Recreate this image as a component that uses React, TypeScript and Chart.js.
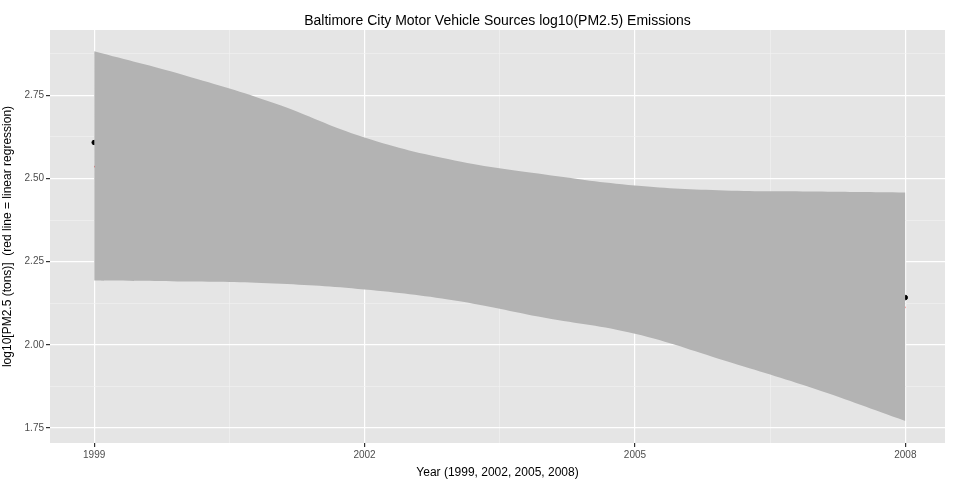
import React, { useEffect, useRef } from 'react'
import { Chart, registerables } from 'chart.js'

Chart.register(...registerables)

const years = [1999, 2002, 2005, 2008]
const emissions = [2.608, 2.283, 2.271, 2.142]
const regression = [2.536, 2.112]
const bandYears = [1999, 2000, 2001, 2002, 2003, 2004, 2005, 2006, 2007, 2008]
const bandUpper = [2.882, 2.81, 2.726, 2.623, 2.554, 2.512, 2.479, 2.464, 2.461, 2.458]
const bandLower = [2.193, 2.19, 2.184, 2.166, 2.133, 2.081, 2.033, 1.952, 1.867, 1.771]
const xTicks = [1999, 2000.5, 2002, 2003.5, 2005, 2006.5, 2008]
const yTicks = [1.75, 1.875, 2.0, 2.125, 2.25, 2.375, 2.5, 2.625, 2.75, 2.875]

const panelBg = {
  id: 'panelBg',
  beforeDraw(chart: Chart) {
    const { ctx, chartArea: a } = chart
    ctx.save()
    ctx.fillStyle = '#E5E5E5'
    ctx.fillRect(a.left, a.top, a.right - a.left, a.bottom - a.top)
    ctx.fillStyle = '#000'
    ctx.font = '14px Arial, "Liberation Sans"'
    ctx.textAlign = 'center'
    ctx.textBaseline = 'middle'
    ctx.fillText('Baltimore City Motor Vehicle Sources log10(PM2.5) Emissions', (a.left + a.right) / 2, 21)
    ctx.restore()
  },
}

const isMajorX = (v: number) => Number.isInteger(v)
const isMajorY = (v: number) => Math.abs(v * 4 - Math.round(v * 4)) < 1e-6

export default function App() {
  const ref = useRef<HTMLCanvasElement | null>(null)

  useEffect(() => {
    document.body.style.margin = '0'
    if (!ref.current) return
    const font = { family: 'Arial, "Liberation Sans"' }
    const chart = new Chart(ref.current, {
      type: 'line',
      data: {
        datasets: [
          {
            data: bandYears.map((x, i) => ({ x, y: bandUpper[i] })),
            borderWidth: 0,
            pointRadius: 0,
            tension: 0.4,
            backgroundColor: '#B3B3B3',
            fill: '+1',
          },
          {
            data: bandYears.map((x, i) => ({ x, y: bandLower[i] })),
            borderWidth: 0,
            pointRadius: 0,
            tension: 0.4,
            fill: false,
          },
          {
            data: [
              { x: years[0], y: regression[0] },
              { x: years[years.length - 1], y: regression[1] },
            ],
            borderColor: '#FF0000',
            borderWidth: 1.5,
            pointRadius: 0,
            fill: false,
          },
          {
            data: years.map((x, i) => ({ x, y: emissions[i] })),
            borderColor: '#333333',
            borderWidth: 1,
            pointRadius: 2.2,
            pointBackgroundColor: '#000',
            pointBorderColor: '#000',
            fill: false,
          },
        ],
      },
      options: {
        animation: false,
        responsive: false,
        layout: { padding: { top: 30, right: 15 } },
        plugins: { legend: { display: false }, tooltip: { enabled: false } },
        scales: {
          x: {
            type: 'linear',
            min: 1998.51,
            max: 2008.44,
            afterFit: (s: any) => { s.height = 37 },
            afterBuildTicks: (s: any) => { s.ticks = xTicks.map((value) => ({ value })) },
            border: { display: false },
            grid: {
              color: (c: any) => (isMajorX(c.tick.value) ? '#FFFFFF' : '#F2F2F2'),
              lineWidth: (c: any) => (isMajorX(c.tick.value) ? 1.2 : 0.6),
              tickColor: (c: any) => (isMajorX(c.tick.value) ? '#333333' : 'rgba(0,0,0,0)'),
              tickLength: 4,
            },
            ticks: {
              autoSkip: false,
              maxRotation: 0,
              color: '#4D4D4D',
              font: { ...font, size: 10 },
              padding: 2,
              callback: (v: any) => (isMajorX(Number(v)) ? String(v) : ''),
            },
            title: { display: true, text: 'Year (1999, 2002, 2005, 2008)', color: '#000', font: { ...font, size: 12 }, padding: 0 },
          },
          y: {
            min: 1.705,
            max: 2.946,
            afterFit: (s: any) => { s.width = 50 },
            afterBuildTicks: (s: any) => { s.ticks = yTicks.map((value) => ({ value })) },
            border: { display: false },
            grid: {
              color: (c: any) => (isMajorY(c.tick.value) ? '#FFFFFF' : '#F2F2F2'),
              lineWidth: (c: any) => (isMajorY(c.tick.value) ? 1.2 : 0.6),
              tickColor: (c: any) => (isMajorY(c.tick.value) ? '#333333' : 'rgba(0,0,0,0)'),
              tickLength: 4,
            },
            ticks: {
              autoSkip: false,
              color: '#4D4D4D',
              font: { ...font, size: 10 },
              padding: 2,
              callback: (v: any) => (isMajorY(Number(v)) ? Number(v).toFixed(2) : ''),
            },
            title: { display: true, text: 'log10[PM2.5 (tons)]  (red line = linear regression)', color: '#000', font: { ...font, size: 12 }, padding: 0 },
          },
        },
      },
      plugins: [panelBg],
    })
    return () => chart.destroy()
  }, [])

  return <canvas ref={ref} width={960} height={480} style={{ display: 'block', background: '#fff' }} />
}
